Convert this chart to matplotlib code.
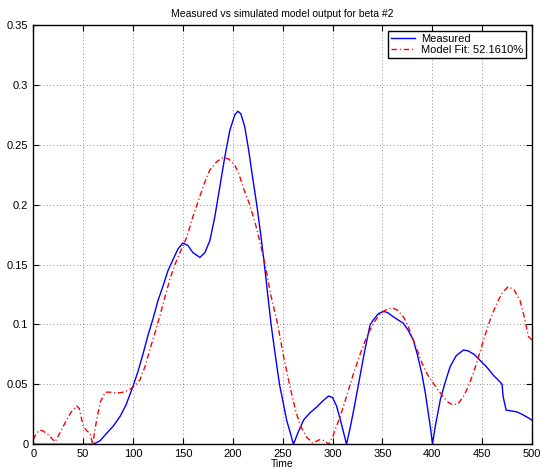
import matplotlib
matplotlib.use("Agg")
import matplotlib.pyplot as plt

# Measured output (blue)
measured_t = [0, 20, 40, 60, 67, 73.6, 80, 87, 93, 100, 105, 110.4, 115, 120.4, 125, 130.4,
              135, 140.5, 145, 149.8, 155, 160, 167, 172, 177, 182, 187, 192, 197, 202,
              205, 208, 212, 216, 220, 224, 228, 231.7, 235, 238.4, 242.5, 246.8, 250,
              254, 257.5, 260.8, 265, 271, 277, 284, 290, 296, 300, 304, 308, 311, 314,
              318, 322, 326, 332, 337.7, 342, 346, 351, 355, 360, 364.5, 371, 376, 381,
              385, 389.5, 393, 396, 398.5, 400.2, 403, 408, 413, 418, 424, 431.3, 436,
              442, 448, 455, 462, 468, 470, 471, 474, 478, 485, 490, 496.5, 500]
measured_y = [0, 0, 0, 0, 0.003, 0.0093, 0.015, 0.0233, 0.033, 0.0486, 0.061, 0.0767, 0.091, 0.106,
              0.12, 0.133, 0.145, 0.155, 0.163, 0.168, 0.166, 0.16, 0.156, 0.16, 0.17, 0.19,
              0.215, 0.24, 0.262, 0.275, 0.278, 0.276, 0.265, 0.245, 0.222, 0.2, 0.175, 0.15,
              0.125, 0.1, 0.075, 0.05, 0.037, 0.02, 0.01, 0.0, 0.009, 0.0203, 0.026,
              0.031, 0.036, 0.0403, 0.039, 0.032, 0.02, 0.01, 0.0, 0.015, 0.032, 0.05, 0.077,
              0.1, 0.105, 0.109, 0.111, 0.11, 0.107, 0.1045, 0.101, 0.095, 0.087, 0.075,
              0.059, 0.043, 0.026, 0.012, 0.0, 0.015, 0.037, 0.052, 0.065, 0.074, 0.0787,
              0.078, 0.075, 0.07, 0.064, 0.057, 0.052, 0.05, 0.04, 0.0286, 0.028, 0.027,
              0.025, 0.022, 0.02]

# Simulated model output (red)
model_t = [0, 3, 6.7, 10, 15, 21.7, 27, 33.4, 38, 43.5, 46, 50, 54, 57, 59.5, 61, 63.5, 67,
           72, 77, 82, 87, 92, 97, 102, 107, 112, 117, 122, 127, 132, 137, 142, 147, 150.5,
           153.9, 160, 167, 172, 177, 184, 190.5, 196, 202, 206, 210.6, 217, 224, 232.4,
           238, 245, 250.5, 256.8, 263, 268, 274, 280, 287.5, 292, 296, 300, 303,
           307.6, 314, 321, 328, 334.4, 341, 347.7, 353, 359.5, 365, 371, 376, 381, 386,
           391, 396, 401, 406, 411, 416, 421, 426, 431, 436, 441, 446, 451.4, 458, 464.8,
           470, 476, 482, 488, 492, 496.5, 500]
model_y = [0.004, 0.009, 0.012, 0.011, 0.008, 0.002, 0.01, 0.0205, 0.027, 0.032, 0.03, 0.015, 0.011,
           0.009, 0.0, 0.008, 0.0205, 0.035, 0.0435, 0.0435, 0.043, 0.043, 0.044, 0.046,
           0.049, 0.054, 0.065, 0.0795, 0.093, 0.1076, 0.123, 0.138, 0.15, 0.16, 0.1666,
           0.173, 0.19, 0.207, 0.219, 0.229, 0.236, 0.2396, 0.238, 0.233, 0.226, 0.214,
           0.2, 0.18, 0.15, 0.125, 0.1, 0.075, 0.05, 0.028, 0.015, 0.006, 0.001,
           0.004, 0.003, 0.0, 0.006, 0.013, 0.023, 0.04, 0.059, 0.076,
           0.09, 0.101, 0.109, 0.112, 0.114, 0.112, 0.1066, 0.098, 0.087, 0.076, 0.065,
           0.057, 0.051, 0.045, 0.0397, 0.035, 0.0328, 0.034, 0.0397, 0.048, 0.059, 0.072,
           0.087, 0.104, 0.118, 0.126, 0.1316, 0.129, 0.12, 0.107, 0.0898, 0.087]

plt.rcParams['font.family'] = ['Liberation Sans', 'DejaVu Sans']

fig = plt.figure(figsize=(5.41, 4.76), dpi=100)
ax = fig.add_axes([0.0616, 0.0666, 0.9218, 0.8809])

ax.plot(measured_t, measured_y, color='#0000ff', linewidth=1.0, label='Measured')
ax.plot(model_t, model_y, color='#ff0000', linestyle=(0, (4, 2, 0.8, 2)), linewidth=1.0,
        label='Model Fit: 52.1610%')

ax.set_xlim(0, 500)
ax.set_ylim(0, 0.35)
ax.set_xticks(range(0, 501, 50))
ax.set_yticks([0, 0.05, 0.1, 0.15, 0.2, 0.25, 0.3, 0.35])
ax.set_yticklabels(['0', '0.05', '0.1', '0.15', '0.2', '0.25', '0.3', '0.35'])
ax.grid(True, color='black', linestyle=(0, (1, 3)), linewidth=0.6, alpha=0.6)
ax.tick_params(direction='in', top=True, right=True, labelsize=8, length=4, width=0.8)
for s in ax.spines.values():
    s.set_linewidth(1.0)

ax.set_title('Measured vs simulated model output for beta #2', fontsize=7.5, pad=6)
ax.set_xlabel('Time', fontsize=7.5, labelpad=0)

leg = ax.legend(loc='upper right', fontsize=8, fancybox=False, framealpha=1,
                edgecolor='black', borderaxespad=0.5, handlelength=2.2,
                borderpad=0.3, labelspacing=0.1, handletextpad=0.5)
leg.get_frame().set_linewidth(1.0)

fig.savefig('out.png', dpi=100)
